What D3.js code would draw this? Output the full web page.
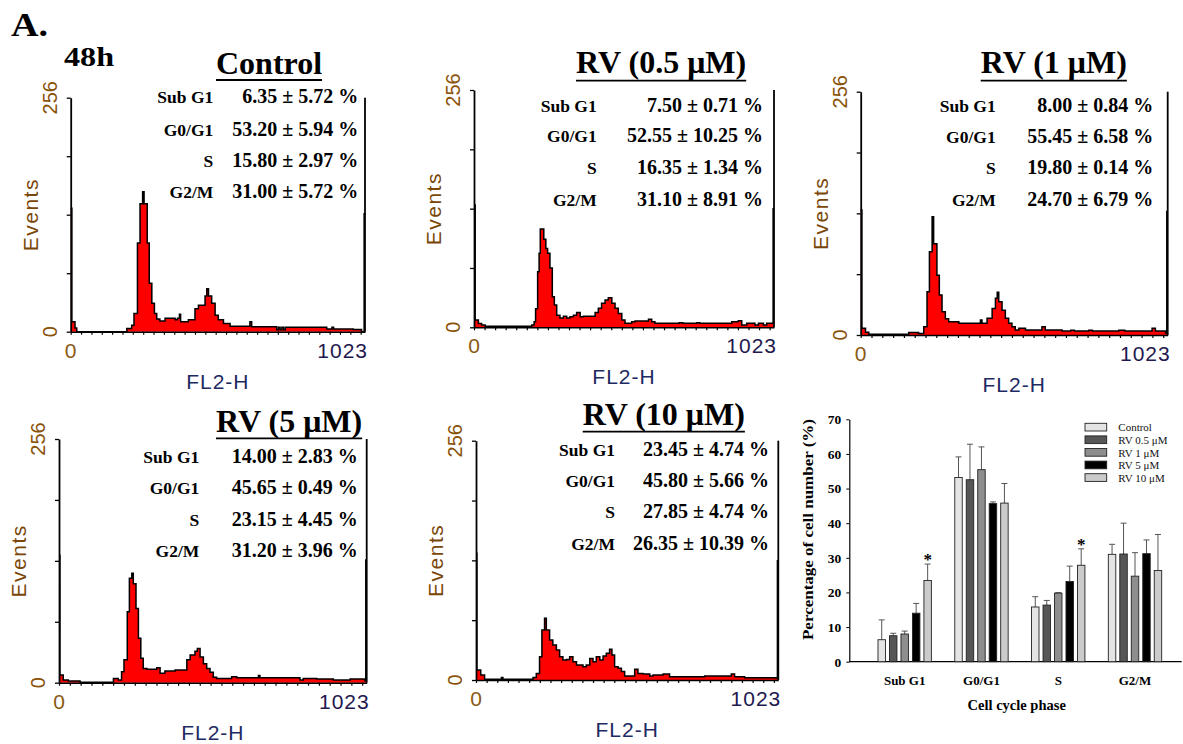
<!DOCTYPE html>
<html><head><meta charset="utf-8">
<script src="https://cdn.jsdelivr.net/npm/d3@7"></script>
<style>body{margin:0;background:#fff}svg{display:block}</style>
</head><body>
<svg id="c" width="1183" height="744"></svg>
<script>
// ---------------- DATA ----------------
const phases = ["Sub G1", "G0/G1", "S", "G2/M"];
const seriesNames = ["Control", "RV 0.5 μM", "RV 1 μM", "RV 5 μM", "RV 10 μM"];
const panelTitles = ["Control", "RV (0.5 μM)", "RV (1 μM)", "RV (5 μM)", "RV (10 μM)"];

// mean % per phase (Sub G1, G0/G1, S, G2/M)
const meanControl = [6.35, 53.20, 15.80, 31.00];
const meanRV05 = [7.50, 52.55, 16.35, 31.10];
const meanRV1 = [8.00, 55.45, 19.80, 24.70];
const meanRV5 = [14.00, 45.65, 23.15, 31.20];
const meanRV10 = [23.45, 45.80, 27.85, 26.35];

// SD as printed in the panel tables
const sdControl = [5.72, 5.94, 2.97, 5.72];
const sdRV05 = [0.71, 10.25, 1.34, 8.91];
const sdRV1 = [0.84, 6.58, 0.14, 6.79];
const sdRV5 = [2.83, 0.49, 4.45, 3.96];
const sdRV10 = [4.74, 5.66, 4.74, 10.39];

// error bar lengths as drawn in the bar chart
const errControl = [5.72, 5.94, 2.97, 2.90];
const errRV05 = [0.71, 10.25, 1.34, 8.91];
const errRV1 = [0.84, 6.58, 0.14, 6.79];
const errRV5 = [2.83, 0.49, 4.45, 3.96];
const errRV10 = [4.74, 5.66, 4.74, 10.39];

const significant = [["Sub G1", "RV 10 μM"], ["S", "RV 10 μM"]];
const barYTicks = [0, 10, 20, 30, 40, 50, 60, 70];
const histYTicks = [0, 64, 128, 192, 256];
const histYLabels = ["0", "256"];
const histXLabels = ["0", "1023"];

// DNA histograms: [FL2-H channel where step starts, events]
const histControl = [[0,135],[4,11],[15,4],[21,0],[195,3.6],[212,7],[220,20],[232,97],[241,140],[250,153],[255,140],[266,97],[273,53],[282,31],[291,20],[299,14],[310,11.7],[328,14.6],[363,13],[371,14.6],[378,19],[382,11],[409,13],[432,25],[444,29],[467,39],[473,47],[479,39],[490,31],[502,18],[513,13],[531,9],[554,6],[623,11],[629,5.5],[716,2],[722,5],[728,2],[734,5],[740,2],[746,5],[890,3],[908,5],[914,3],[982,2.5],[1011,0],[1020,129]];
const histRV05 = [[0,132],[4,8],[15,4],[26,2.5],[38,1],[197,2.5],[205,6],[210,20],[217,60],[222,80],[226,106],[238,95],[245,85],[251,80],[259,64],[267,33],[274,24],[282,13],[293,10],[305,12],[316,10],[327,11.5],[339,13],[350,16],[362,11.5],[373,12],[413,16],[424,20.5],[435,26],[447,29.5],[458,32],[470,26],[481,20.5],[492,15],[504,8],[515,4.3],[538,6],[549,6.8],[595,8.6],[606,6],[617,4.3],[700,5],[712,4.3],[760,5],[770,4.3],[879,6],[901,7],[913,2.5],[930,4.3],[958,2.5],[970,4.3],[987,2.5],[998,4.3],[1020,128]];
const histRV1 = [[0,131.5],[4,7],[16,2.8],[27,0.7],[160,2.5],[193,1.7],[210,8.8],[221,45.6],[229,87.7],[238,124.5],[243,96],[254,63],[262,42],[271,24.5],[282,17],[293,14],[327,12.3],[399,15.8],[404,12.3],[421,17.5],[438,28],[449,38.6],[455,45],[460,35],[471,26],[482,17.5],[493,12.3],[504,8.8],[515,5.3],[527,7],[549,5.3],[604,8.8],[615,5.3],[671,4.2],[700,5],[712,4.2],[760,5],[772,4.2],[860,5],[880,4.2],[971,7],[982,4.2],[1016,2],[1020,130]];
const histRV5 = [[0,134],[3,8],[14,2.8],[31,1.7],[70,0.5],[181,4.5],[197,2.8],[208,11.5],[216,24],[227,74.6],[234,109.6],[242,115],[247,104],[256,78],[264,46.6],[272,25.6],[280,15],[292,14],[325,15.8],[336,9.8],[352,12.3],[386,13.3],[425,24],[436,29],[452,33],[460,36],[469,27],[480,20],[491,15],[502,11],[513,5.6],[524,4.5],[574,6.3],[591,5.3],[663,7.5],[668,5.3],[801,2.8],[812,4.5],[857,3.8],[912,2.8],[968,3.8],[1017,2],[1020,129]];
const histRV10 = [[0,135.5],[3,10.7],[16,5.3],[29,0.7],[86,2.8],[91,0.7],[193,2.8],[204,7],[215,25],[223,53.5],[232,66],[238,53.5],[249,42.8],[260,37.4],[272,32],[283,25],[294,21.4],[306,22],[317,25],[328,19.6],[340,16],[362,14.3],[373,16],[385,23],[396,19.6],[407,25],[419,21.4],[430,25.7],[441,28.5],[452,32.8],[460,26.7],[469,14.3],[481,12.5],[492,9],[503,4.3],[537,11.4],[548,7],[565,6.4],[588,4.3],[599,5.3],[633,6.4],[655,3.6],[774,4.3],[864,6.4],[875,3.6],[909,2.5],[1016,2],[1020,127.6]];

// ---------------- BUILD ----------------
const means = [meanControl, meanRV05, meanRV1, meanRV5, meanRV10];
const sds = [sdControl, sdRV05, sdRV1, sdRV5, sdRV10];
const errs = [errControl, errRV05, errRV1, errRV5, errRV10];
const hists = [histControl, histRV05, histRV1, histRV5, histRV10];

const SERIF = "'Liberation Serif','Times New Roman',serif";
const SANS = "'Liberation Sans',Arial,sans-serif";
const svg = d3.select("#c");

// panel layout
const panels = [
  {x0:70.7, x1:365,   yTop:97.7, yBase:331.7, tx:216,   ty:74,    uy:80,    lr:213.3, vr:358.3,  rows:[103.3,135.7,166.7,198.3]},
  {x0:474,  x1:774,   yTop:90,   yBase:327.3, tx:576,   ty:73,    uy:80.7,  lr:596.7, vr:763,    rows:[111.7,142.3,174,205.7]},
  {x0:860.7,x1:1167.7,yTop:91.7, yBase:335,   tx:980.7, ty:73.3,  uy:80.7,  lr:995.7, vr:1153.3, rows:[111.7,142.7,174.3,205.7]},
  {x0:59,   x1:366.7, yTop:439,  yBase:682.7, tx:216,   ty:431.7, uy:438.3, lr:199.3, vr:357.7,  rows:[462.7,494.3,525.7,556.7]},
  {x0:476,  x1:778.3, yTop:440.7,yBase:680,   tx:582.7, ty:425,   uy:431.7, lr:615,   vr:769,    rows:[456,486.7,518.3,550]}
];

svg.append("text").attr("x",11).attr("y",36).attr("font-family",SERIF).attr("font-weight","bold")
  .attr("font-size",33).attr("textLength",37).attr("lengthAdjust","spacingAndGlyphs").text("A.");
svg.append("text").attr("x",64).attr("y",66).attr("font-family",SERIF).attr("font-weight","bold")
  .attr("font-size",28).attr("textLength",50).attr("lengthAdjust","spacingAndGlyphs").text("48h");

panels.forEach((p, i) => {
  const g = svg.append("g");
  const x = d3.scaleLinear().domain([0, 1023]).range([p.x0, p.x1]);
  const y = d3.scaleLinear().domain([0, 256]).range([p.yBase, p.yTop]);
  const h = hists[i];
  const pts = h.concat([[1023, h[h.length - 1][1]]]);
  const area = d3.area().x(d => x(d[0])).y0(y(0)).y1(d => y(d[1])).curve(d3.curveStepAfter);
  const line = d3.line().x(d => x(d[0])).y(d => y(d[1])).curve(d3.curveStepAfter);
  g.append("path").attr("d", area(pts)).attr("fill", "#ff0000");
  g.append("path").attr("d", line(pts)).attr("fill", "none").attr("stroke", "#000")
    .attr("stroke-width", 1.5).attr("stroke-linejoin", "miter");

  // axes
  const ya = g.append("g").attr("transform", `translate(${p.x0},0)`)
    .call(d3.axisLeft(y).tickValues(histYTicks).tickSize(4).tickSizeOuter(0).tickFormat(""));
  ya.select(".domain").attr("stroke-width", 1.8);
  ya.selectAll(".tick line").attr("stroke-width", 1.3);
  const xa = g.append("g").attr("transform", `translate(0,${p.yBase})`)
    .call(d3.axisBottom(x).tickValues(d3.range(0, 1024, 36)).tickSize(3).tickSizeOuter(0).tickFormat(""));
  xa.select(".domain").attr("stroke-width", 1.6);
  xa.selectAll(".tick line").attr("stroke-width", 1.2);
  g.append("line").attr("x1", x(1023)).attr("x2", x(1023)).attr("y1", y(256)).attr("y2", y(0))
    .attr("stroke", "#000").attr("stroke-width", 1.8);

  // axis labels
  [0, 256].forEach((v, k) => {
    g.append("text").attr("transform", `translate(${p.x0 - 14},${y(v)}) rotate(-90)`)
      .attr("text-anchor", "middle").attr("font-family", SANS).attr("font-size", 20)
      .attr("fill", "#8a5208").text(histYLabels[k]);
  });
  g.append("text").attr("transform", `translate(${p.x0 - 33},${(p.yTop + p.yBase) / 2}) rotate(-90)`)
    .attr("text-anchor", "middle").attr("font-family", SANS).attr("font-size", 21)
    .attr("letter-spacing", 1.5).attr("fill", "#7a4608").text("Events");
  g.append("text").attr("x", x(0)).attr("y", p.yBase + 26).attr("text-anchor", "middle")
    .attr("font-family", SANS).attr("font-size", 21).attr("fill", "#8a5a14").text(histXLabels[0]);
  g.append("text").attr("x", x(1023) + 3).attr("y", p.yBase + 26).attr("text-anchor", "end")
    .attr("font-family", SANS).attr("font-size", 21).attr("letter-spacing", 1).attr("fill", "#22184e").text(histXLabels[1]);
  g.append("text").attr("x", (p.x0 + p.x1) / 2).attr("y", p.yBase + 57).attr("text-anchor", "middle")
    .attr("font-family", SANS).attr("font-size", 21).attr("letter-spacing", 1).attr("fill", "#1e2a62").text("FL2-H");

  // title
  const t = g.append("text").attr("x", p.tx).attr("y", p.ty).attr("font-family", SERIF)
    .attr("font-weight", "bold").attr("font-size", 32).text(panelTitles[i]);
  const tw = t.node().getComputedTextLength();
  g.append("line").attr("x1", p.tx).attr("x2", p.tx + tw).attr("y1", p.uy).attr("y2", p.uy)
    .attr("stroke", "#000").attr("stroke-width", 1.8);

  // stats table
  phases.forEach((ph, k) => {
    g.append("text").attr("x", p.lr).attr("y", p.rows[k]).attr("text-anchor", "end")
      .attr("font-family", SERIF).attr("font-weight", "bold").attr("font-size", 17.5).text(ph);
    g.append("text").attr("x", p.vr).attr("y", p.rows[k]).attr("text-anchor", "end")
      .attr("font-family", SERIF).attr("font-weight", "bold").attr("font-size", 20)
      .text(`${means[i][k].toFixed(2)} ± ${sds[i][k].toFixed(2)} %`);
  });
});

// ---------------- BAR CHART ----------------
const barColors = ["#e4e4e4", "#565656", "#8e8e8e", "#000000", "#cbcbcb"];
const bc = svg.append("g");
const yB = d3.scaleLinear().domain([0, 70]).range([661.7, 419.3]);
const xG = d3.scaleBand().domain(phases).range([866.3, 1173.4]).paddingInner(0.2).paddingOuter(0.1);
const xS = d3.scaleBand().domain(seriesNames).range([0, xG.bandwidth()]).padding(0.35);

const yAx = bc.append("g").attr("transform", "translate(849.3,0)")
  .call(d3.axisLeft(yB).tickValues(barYTicks).tickSize(3).tickSizeOuter(0).tickPadding(5));
yAx.selectAll("text").attr("font-family", SERIF).attr("font-weight", "bold").attr("font-size", 13.5).attr("fill", "#000");
yAx.select(".domain").attr("stroke-width", 1.2);
bc.append("line").attr("x1", 849.3).attr("x2", 1181.7).attr("y1", yB(0)).attr("y2", yB(0))
  .attr("stroke", "#000").attr("stroke-width", 1.2);
const xAx = bc.append("g").attr("transform", `translate(0,${yB(0)})`)
  .call(d3.axisBottom(xG).tickSize(0).tickPadding(14));
xAx.select(".domain").remove();
xAx.selectAll("text").attr("font-family", SERIF).attr("font-weight", "bold").attr("font-size", 13).attr("fill", "#000");

seriesNames.forEach((s, si) => {
  phases.forEach((ph, pi) => {
    const bx = xG(ph) + xS(s), bw = xS.bandwidth(), cx = bx + bw / 2;
    const m = means[si][pi], e = errs[si][pi];
    bc.append("line").attr("x1", cx).attr("x2", cx).attr("y1", yB(m)).attr("y2", yB(m + e))
      .attr("stroke", "#555").attr("stroke-width", 1);
    bc.append("line").attr("x1", cx - bw * 0.4).attr("x2", cx + bw * 0.4).attr("y1", yB(m + e)).attr("y2", yB(m + e))
      .attr("stroke", "#555").attr("stroke-width", 1);
    bc.append("rect").attr("x", bx).attr("y", yB(m)).attr("width", bw).attr("height", yB(0) - yB(m))
      .attr("fill", barColors[si]).attr("stroke", "#222").attr("stroke-width", 0.9);
  });
});
significant.forEach(([ph, s]) => {
  const pi = phases.indexOf(ph), si = seriesNames.indexOf(s);
  const cx = xG(ph) + xS(s) + xS.bandwidth() / 2;
  bc.append("text").attr("x", cx).attr("y", yB(means[si][pi] + errs[si][pi]) + 1).attr("text-anchor", "middle")
    .attr("font-family", SERIF).attr("font-weight", "bold").attr("font-size", 17).text("*");
});

bc.append("text").attr("transform", "translate(813,529.5) rotate(-90)").attr("text-anchor", "middle")
  .attr("font-family", SERIF).attr("font-weight", "bold").attr("font-size", 15)
  .attr("textLength", 221).attr("lengthAdjust", "spacingAndGlyphs").text("Percentage of cell number (%)");
bc.append("text").attr("x", 1016.7).attr("y", 710).attr("text-anchor", "middle")
  .attr("font-family", SERIF).attr("font-weight", "bold").attr("font-size", 14.5).text("Cell cycle phase");

// legend
seriesNames.forEach((s, si) => {
  const ly = 423.3 + si * 12.6;
  bc.append("rect").attr("x", 1085).attr("y", ly).attr("width", 21.7).attr("height", 7.7)
    .attr("fill", barColors[si]).attr("stroke", "#222").attr("stroke-width", 0.9);
  bc.append("text").attr("x", 1118.3).attr("y", ly + 8).attr("font-family", SERIF)
    .attr("font-size", 11).attr("fill", "#111").text(s);
});
</script>
</body></html>
